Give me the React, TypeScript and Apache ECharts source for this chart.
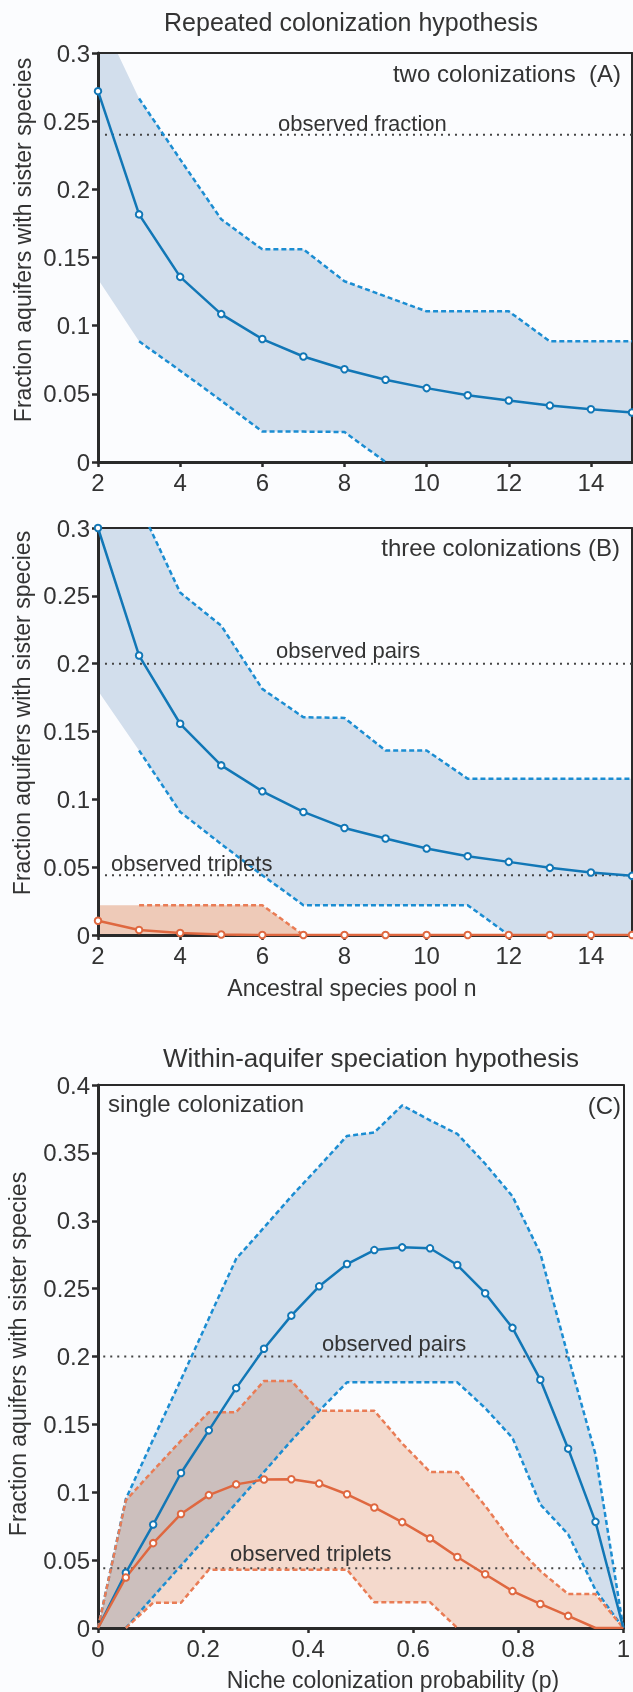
import React, { useEffect, useRef } from "react";
import * as echarts from "echarts";

// ---------- data ----------
const N = [2, 3, 4, 5, 6, 7, 8, 9, 10, 11, 12, 13, 14, 15];

// Panel A – two colonizations
const A_MEAN = [0.272, 0.1816, 0.1358, 0.1085, 0.0902, 0.0774, 0.068, 0.0603, 0.0542, 0.049, 0.0451, 0.0414, 0.0387, 0.0363];
const A_UPPER = [0.33, 0.2666, 0.222, 0.178, 0.156, 0.156, 0.1326, 0.1215, 0.1105, 0.1105, 0.1105, 0.0885, 0.0885, 0.0885];
const A_LOWER = [0.134, 0.0885, 0.067, 0.045, 0.0223, 0.0223, 0.022, 0, 0, 0, 0, 0, 0, 0];
const A_OBSERVED = 0.24;

// Panel B – three colonizations
const B_MEAN = [0.3, 0.206, 0.1557, 0.125, 0.1059, 0.0907, 0.0789, 0.0711, 0.0637, 0.0581, 0.0539, 0.0495, 0.0461, 0.0436];
const B_UPPER = [0.37, 0.317, 0.2524, 0.228, 0.1814, 0.1605, 0.16, 0.136, 0.136, 0.1152, 0.1152, 0.1152, 0.1152, 0.1152];
const B_LOWER = [0.18, 0.136, 0.0907, 0.067, 0.0441, 0.022, 0.022, 0.022, 0.022, 0.022, 0, 0, 0, 0];
const B_TRIP_MEAN = [0.0105, 0.0037, 0.0015, 0.0004, 0, 0, 0, 0, 0, 0, 0, 0, 0, 0];
const B_TRIP_UPPER = [0.022, 0.022, 0.022, 0.022, 0.022, 0, 0, 0, 0, 0, 0, 0, 0, 0];
const B_TRIP_LOWER = [0, 0, 0, 0, 0, 0, 0, 0, 0, 0, 0, 0, 0, 0];
const B_OBS_PAIRS = 0.2;
const B_OBS_TRIPLETS = 0.044;

// Panel C – single colonization
const P = [0, 0.053, 0.105, 0.158, 0.211, 0.263, 0.316, 0.368, 0.421, 0.474, 0.526, 0.579, 0.632, 0.684, 0.737, 0.789, 0.842, 0.895, 0.947, 1];
const C_PAIR_MEAN = [0, 0.0407, 0.0762, 0.1142, 0.1456, 0.1767, 0.2057, 0.2301, 0.2517, 0.2681, 0.2784, 0.2804, 0.2797, 0.2674, 0.2466, 0.2211, 0.1829, 0.1321, 0.0782, 0];
const C_PAIR_UPPER = [0, 0.095, 0.139, 0.183, 0.228, 0.272, 0.295, 0.318, 0.34, 0.3625, 0.365, 0.385, 0.374, 0.364, 0.342, 0.318, 0.276, 0.2, 0.128, 0];
const C_PAIR_LOWER = [0, 0, 0.023, 0.046, 0.069, 0.092, 0.115, 0.138, 0.16, 0.181, 0.181, 0.181, 0.181, 0.181, 0.162, 0.14, 0.091, 0.069, 0.028, 0];
const C_TRIP_MEAN = [0, 0.0372, 0.0625, 0.084, 0.0979, 0.1058, 0.1094, 0.1096, 0.1064, 0.0985, 0.0888, 0.078, 0.066, 0.0523, 0.0396, 0.0272, 0.0177, 0.0089, 0, 0];
const C_TRIP_UPPER = [0, 0.094, 0.116, 0.138, 0.159, 0.159, 0.182, 0.182, 0.16, 0.16, 0.16, 0.136, 0.115, 0.115, 0.09, 0.063, 0.042, 0.025, 0.025, 0];
const C_TRIP_LOWER = [0, 0, 0.0186, 0.0186, 0.043, 0.043, 0.043, 0.043, 0.043, 0.043, 0.019, 0.019, 0.019, 0, 0, 0, 0, 0, 0, 0];
const C_OBS_PAIRS = 0.2;
const C_OBS_TRIPLETS = 0.044;

const N_TICKS = { min: 2, max: 15, interval: 2 };
const P_TICKS = { min: 0, max: 1, interval: 0.2 };
const OBS_START_N = 2.17;
const OBS_START_P = 0.01;

// ---------- style ----------
const W = 633;
const H = 1692;
const FONT = "'Liberation Sans', Arial, Helvetica, sans-serif";
const TEXT = "#333333";
const AX = "#2a2a2a";
const BG = "#fbfcfe";
const BLUE = "#1277b6";
const BLUE_DASH = "#1b8dd2";
const BLUE_FILL = "#d2deec";
const ORANGE = "#df6840";
const ORANGE_DASH = "#e97c55";
const ORANGE_FILL_B = "#f2cdb9";
const ORANGE_FILL_C = "#f8dccd";

const pts = (xs: number[], ys: number[]) => xs.map((x, i) => [x, ys[i]]);

function normColor(c: string): string {
  let s = (c || "").trim().toLowerCase().replace(/\s+/g, "");
  if (s[0] === "#") {
    let h = s.slice(1);
    if (h.length === 3) h = h.split("").map((ch) => ch + ch).join("");
    const r = parseInt(h.slice(0, 2), 16);
    const g = parseInt(h.slice(2, 4), 16);
    const b = parseInt(h.slice(4, 6), 16);
    return `rgb(${r},${g},${b})`;
  }
  if (s.startsWith("rgba(")) {
    const parts = s.slice(5, -1).split(",");
    return `rgb(${parts[0]},${parts[1]},${parts[2]})`;
  }
  return s;
}

// the reference darkens where the orange band lies over the blue one (multiply)
function applyBlend(root: HTMLElement) {
  const targets = [ORANGE_FILL_B, ORANGE_FILL_C].map(normColor);
  root.querySelectorAll("path, polygon").forEach((p) => {
    const f = p.getAttribute("fill");
    if (f && targets.indexOf(normColor(f)) >= 0) {
      (p as any).style.mixBlendMode = "multiply";
      let g: any = p.parentElement;
      while (g && g.tagName && g.tagName.toLowerCase() === "g") {
        if (g.getAttribute("clip-path")) g.style.mixBlendMode = "multiply";
        g = g.parentElement;
      }
    }
  });
}

// band between a lower and an upper bound, drawn as one polygon via the axis scales
function band(xs: number[], lower: number[], upper: number[], fill: string, axis: number, clip: boolean) {
  return {
    type: "custom",
    xAxisIndex: axis,
    yAxisIndex: axis,
    data: [[xs[0], lower[0]]],
    clip,
    silent: true,
    z: 1,
    renderItem: (_params: any, api: any) => {
      const top = xs.map((x, i) => api.coord([x, upper[i]]));
      const bottom = xs.map((x, i) => api.coord([x, lower[i]])).reverse();
      return {
        type: "polygon",
        shape: { points: top.concat(bottom) },
        style: { fill, stroke: "none" },
      };
    },
  };
}

function dashed(data: number[][], color: string, axis: number) {
  return {
    type: "line",
    xAxisIndex: axis,
    yAxisIndex: axis,
    data,
    symbol: "none",
    lineStyle: { color, width: 2.5, type: [5, 3] },
    silent: true,
    z: 4,
  };
}

function meanLine(xs: number[], ys: number[], color: string, axis: number, hideFrom = 99, hideFirst = false) {
  return {
    type: "line",
    xAxisIndex: axis,
    yAxisIndex: axis,
    data: xs.map((x, i) => {
      const hidden = (hideFirst && i === 0) || i >= hideFrom;
      return hidden ? { value: [x, ys[i]], symbol: "none" } : { value: [x, ys[i]] };
    }),
    symbol: "circle",
    symbolSize: 6.5,
    showAllSymbol: true,
    lineStyle: { color, width: 2.5 },
    itemStyle: { color: "#ffffff", borderColor: color, borderWidth: 2 },
    silent: true,
    z: 6,
  };
}

function observed(x0: number, x1: number, v: number, axis: number) {
  return {
    type: "line",
    xAxisIndex: axis,
    yAxisIndex: axis,
    data: [
      [x0, v],
      [x1, v],
    ],
    symbol: "none",
    lineStyle: { color: "#444444", width: 2, type: [2, 5] },
    silent: true,
    z: 3,
  };
}

function txt(text: string, x: number, y: number, size: number, align = "center", rotation = 0) {
  return {
    type: "text",
    x,
    y,
    rotation,
    z: 100,
    silent: true,
    style: {
      text,
      fontSize: size,
      fontFamily: FONT,
      fill: TEXT,
      align,
      textAlign: align,
      verticalAlign: "middle",
      textVerticalAlign: "middle",
    },
  };
}

function buildOption(): any {
  const grids = [
    { left: 98, top: 53, width: 534, height: 409 },
    { left: 98, top: 528, width: 534, height: 407 },
    { left: 98, top: 1085, width: 534, height: 543 },
  ];
  const xTicks = [N_TICKS, N_TICKS, P_TICKS];
  const yMax = [0.3, 0.3, 0.4];

  const label = { fontSize: 24, color: TEXT, fontFamily: FONT };
  const xAxis: any[] = [];
  const yAxis: any[] = [];
  grids.forEach((_, i) => {
    xAxis.push({
      gridIndex: i,
      type: "value",
      min: xTicks[i].min,
      max: xTicks[i].max,
      interval: xTicks[i].interval,
      position: "bottom",
      axisLine: { onZero: false, lineStyle: { color: AX, width: 3 } },
      axisTick: { show: true, inside: false, length: 5, lineStyle: { color: AX, width: 2.5 } },
      axisLabel: { ...label, margin: 8, showMaxLabel: i === 2 },
      splitLine: { show: false },
      z: 2,
    });
    xAxis.push({
      gridIndex: i,
      type: "value",
      min: xTicks[i].min,
      max: xTicks[i].max,
      position: "top",
      axisLine: { onZero: false, lineStyle: { color: AX, width: 2 } },
      axisTick: { show: false },
      axisLabel: { show: false },
      splitLine: { show: false },
      z: 2,
    });
    yAxis.push({
      gridIndex: i,
      type: "value",
      min: 0,
      max: yMax[i],
      interval: 0.05,
      position: "left",
      axisLine: { onZero: false, lineStyle: { color: AX, width: 3 } },
      axisTick: { show: true, inside: false, length: 6, lineStyle: { color: AX, width: 2.5 } },
      axisLabel: { ...label, margin: 8 },
      splitLine: { show: false },
      z: 2,
    });
    yAxis.push({
      gridIndex: i,
      type: "value",
      min: 0,
      max: yMax[i],
      position: "right",
      axisLine: { onZero: false, lineStyle: { color: AX, width: 2 } },
      axisTick: { show: false },
      axisLabel: { show: false },
      splitLine: { show: false },
      z: 2,
    });
  });

  const a = 0, b = 2, c = 4;
  const series: any[] = [
    // Panel A
    band(N, A_LOWER, A_UPPER, BLUE_FILL, a, true),
    dashed(pts(N, A_UPPER).slice(1), BLUE_DASH, a),
    dashed(pts(N, A_LOWER).slice(1, 8), BLUE_DASH, a),
    observed(OBS_START_N, N_TICKS.max, A_OBSERVED, a),
    meanLine(N, A_MEAN, BLUE, a),

    // Panel B
    band(N, B_LOWER, B_UPPER, BLUE_FILL, b, true),
    band(N, B_TRIP_LOWER, B_TRIP_UPPER, ORANGE_FILL_B, b, false),
    dashed(pts(N, B_UPPER).slice(1), BLUE_DASH, b),
    dashed(pts(N, B_LOWER).slice(1, 11), BLUE_DASH, b),
    dashed(pts(N, B_TRIP_UPPER).slice(1, 6), ORANGE_DASH, b),
    observed(OBS_START_N, N_TICKS.max, B_OBS_PAIRS, b),
    observed(OBS_START_N, N_TICKS.max, B_OBS_TRIPLETS, b),
    meanLine(N, B_MEAN, BLUE, b),
    meanLine(N, B_TRIP_MEAN, ORANGE, b),

    // Panel C
    band(P, C_PAIR_LOWER, C_PAIR_UPPER, BLUE_FILL, c, false),
    band(P, C_TRIP_LOWER, C_TRIP_UPPER, ORANGE_FILL_C, c, false),
    dashed(pts(P, C_PAIR_UPPER), BLUE_DASH, c),
    dashed(pts(P, C_PAIR_LOWER).slice(1), BLUE_DASH, c),
    dashed(pts(P, C_TRIP_UPPER), ORANGE_DASH, c),
    dashed(pts(P, C_TRIP_LOWER).slice(1, 14), ORANGE_DASH, c),
    observed(OBS_START_P, P_TICKS.max, C_OBS_PAIRS, c),
    observed(OBS_START_P, P_TICKS.max, C_OBS_TRIPLETS, c),
    meanLine(P, C_PAIR_MEAN, BLUE, c, 19, true),
    meanLine(P, C_TRIP_MEAN, ORANGE, c, 18, true),
  ];

  const yName = "Fraction aquifers with sister species";
  const graphic = [
    txt("Repeated colonization hypothesis", 351, 22, 25),
    txt("two colonizations  (A)", 621, 73, 24, "right"),
    txt("observed fraction", 278, 123, 22, "left"),
    txt(yName, 23, 240, 23, "center", Math.PI / 2),

    txt("three colonizations (B)", 620, 547, 24, "right"),
    txt("observed pairs", 276, 650, 22, "left"),
    txt("observed triplets", 111, 863, 22, "left"),
    txt(yName, 22, 713, 23, "center", Math.PI / 2),
    txt("Ancestral species pool n", 352, 988, 23),

    txt("Within-aquifer speciation hypothesis", 371, 1058, 26),
    txt("single colonization", 108, 1103, 24, "left"),
    txt("(C)", 621, 1105, 24, "right"),
    txt("observed pairs", 322, 1343, 22, "left"),
    txt("observed triplets", 230, 1553, 22, "left"),
    txt(yName, 18, 1354, 23, "center", Math.PI / 2),
    txt("Niche colonization probability (p)", 393, 1680, 23),
  ];

  return {
    animation: false,
    backgroundColor: BG,
    textStyle: { fontFamily: FONT },
    grid: grids,
    xAxis,
    yAxis,
    series,
    graphic,
  };
}

export default function App() {
  const ref = useRef<HTMLDivElement>(null);
  useEffect(() => {
    const el = ref.current;
    if (!el) return;
    const chart = echarts.init(el, undefined, { renderer: "svg", width: W, height: H });
    chart.setOption(buildOption());
    applyBlend(el);
    const onFinished = () => applyBlend(el);
    chart.on("finished", onFinished);
    const raf = requestAnimationFrame(() => applyBlend(el));
    return () => {
      cancelAnimationFrame(raf);
      chart.off("finished", onFinished);
      chart.dispose();
    };
  }, []);
  return (
    <div
      ref={ref}
      style={{ position: "absolute", left: 0, top: 0, width: W, height: H, background: BG }}
    />
  );
}
